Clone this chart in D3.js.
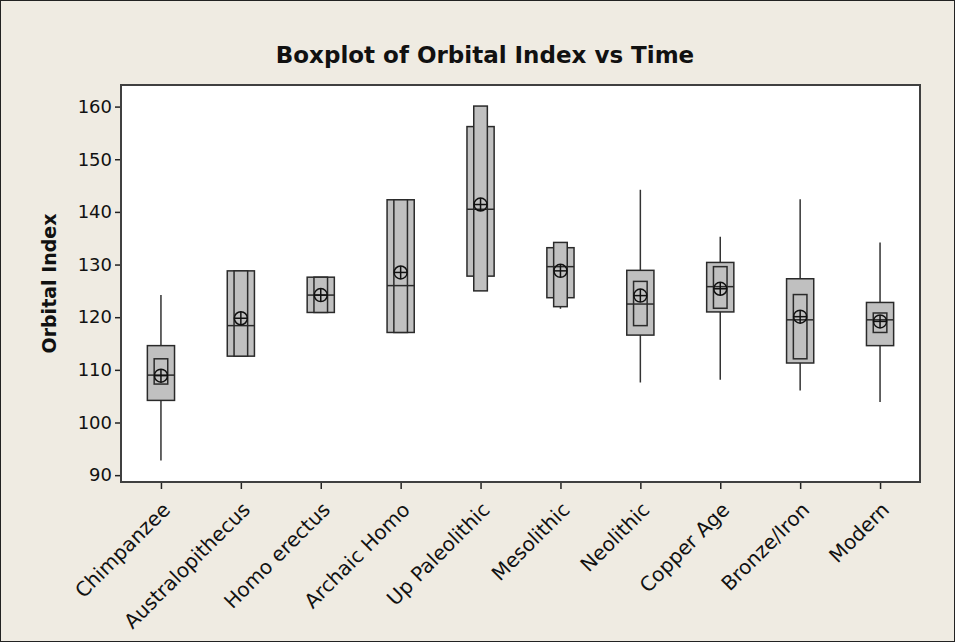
<!DOCTYPE html>
<html>
<head>
<meta charset="utf-8">
<script src="https://cdn.jsdelivr.net/npm/d3@7"></script>
<style>
  body { margin: 0; background: #fff; }
  text { font-family: "DejaVu Sans", Verdana, sans-serif; fill: #111; }
</style>
</head>
<body>
<div id="chart"></div>
<script>
// values
const categories = ["Chimpanzee", "Australopithecus", "Homo erectus", "Archaic Homo", "Up Paleolithic",
  "Mesolithic", "Neolithic", "Copper Age", "Bronze/Iron", "Modern"];
const whiskerLow  = [92.8, 112.6, 120.9, 117.1, 125.0, 121.6, 107.6, 108.1, 106.1, 103.9];
const q1          = [104.2, 112.6, 120.9, 117.1, 127.8, 123.7, 116.6, 121.0, 111.3, 114.6];
const median      = [109.0, 118.4, 124.2, 126.0, 140.5, 129.6, 122.5, 125.8, 119.5, 119.5];
const q3          = [114.6, 128.8, 127.6, 142.3, 156.2, 133.2, 128.9, 130.4, 127.3, 122.8];
const whiskerHigh = [124.2, 128.8, 127.6, 142.3, 160.1, 134.2, 144.2, 135.3, 142.4, 134.2];
const ciLow       = [107.3, 112.6, 120.9, 117.1, 125.0, 122.0, 118.4, 121.7, 112.1, 117.1];
const ciHigh      = [112.1, 128.8, 127.6, 142.3, 160.1, 134.2, 126.8, 129.6, 124.3, 120.8];
const means       = [108.9, 119.8, 124.2, 128.5, 141.4, 128.8, 124.1, 125.4, 120.1, 119.2];
const yTicks = [90, 100, 110, 120, 130, 140, 150, 160];

const width = 955, height = 642;
const plot = { left: 121, top: 85, right: 920, bottom: 482 };

const rows = categories.map((c, i) => ({
  cat: c, lo: whiskerLow[i], q1: q1[i], med: median[i], q3: q3[i], hi: whiskerHigh[i],
  ciLo: ciLow[i], ciHi: ciHigh[i], mean: means[i]
}));

const svg = d3.select("#chart").append("svg")
  .attr("width", width)
  .attr("height", height);

// page background + outer frame
svg.append("rect")
  .attr("x", 0.5).attr("y", 0.5)
  .attr("width", width - 1).attr("height", height - 1)
  .attr("fill", "#efebe2")
  .attr("stroke", "#222");

const x = d3.scalePoint()
  .domain(categories)
  .range([plot.left, plot.right])
  .padding(0.5);

const y = d3.scaleLinear()
  .domain([88.7, 164.1])
  .range([plot.bottom, plot.top]);

const boxW = x.step() * 0.34;
const ciW = x.step() * 0.17;

svg.append("rect")
  .attr("x", plot.left).attr("y", plot.top)
  .attr("width", plot.right - plot.left).attr("height", plot.bottom - plot.top)
  .attr("fill", "#fff");

const g = svg.append("g");
const box = g.selectAll(".box")
  .data(rows)
  .enter()
  .append("g")
  .attr("class", "box")
  .attr("transform", d => "translate(" + x(d.cat) + ",0)");

// whiskers
box.append("line")
  .attr("x1", 0).attr("x2", 0)
  .attr("y1", d => y(d.lo)).attr("y2", d => y(d.hi))
  .attr("stroke", "#333")
  .attr("stroke-width", 1.5);

// interquartile box
box.append("rect")
  .attr("x", -boxW / 2)
  .attr("y", d => y(d.q3))
  .attr("width", boxW)
  .attr("height", d => y(d.q1) - y(d.q3))
  .attr("fill", "#c0c0c0")
  .attr("stroke", "#2a2a2a")
  .attr("stroke-width", 1.5);

// median confidence interval box
box.append("rect")
  .attr("x", -ciW / 2)
  .attr("y", d => y(d.ciHi))
  .attr("width", ciW)
  .attr("height", d => y(d.ciLo) - y(d.ciHi))
  .attr("fill", "#c0c0c0")
  .attr("stroke", "#2a2a2a")
  .attr("stroke-width", 1.5);

// median
box.append("line")
  .attr("x1", -boxW / 2).attr("x2", boxW / 2)
  .attr("y1", d => y(d.med)).attr("y2", d => y(d.med))
  .attr("stroke", "#2a2a2a")
  .attr("stroke-width", 1.5);

// mean symbol (circled plus)
const r = 6.5;
const meanSym = box.append("g")
  .attr("transform", d => "translate(0," + y(d.mean) + ")")
  .attr("stroke", "#111")
  .attr("stroke-width", 1.5)
  .attr("fill", "none");
meanSym.append("circle").attr("r", r);
meanSym.append("line").attr("x1", -r).attr("x2", r);
meanSym.append("line").attr("y1", -r).attr("y2", r);

// plot frame
svg.append("rect")
  .attr("x", plot.left).attr("y", plot.top)
  .attr("width", plot.right - plot.left).attr("height", plot.bottom - plot.top)
  .attr("fill", "none")
  .attr("stroke", "#404040")
  .attr("stroke-width", 2);

// axes
const yAxis = svg.append("g")
  .attr("transform", "translate(" + (plot.left - 1) + ",0)")
  .call(d3.axisLeft(y).tickValues(yTicks).tickSize(5).tickPadding(3).tickSizeOuter(0));
yAxis.select(".domain").remove();
yAxis.selectAll("line").attr("stroke", "#222").attr("stroke-width", 1.5);
yAxis.selectAll("text").style("font-size", "18px").attr("fill", "#111");

const xAxis = svg.append("g")
  .attr("transform", "translate(0," + (plot.bottom + 1) + ")")
  .call(d3.axisBottom(x).tickSize(6).tickSizeOuter(0));
xAxis.select(".domain").remove();
xAxis.selectAll("line").attr("stroke", "#222").attr("stroke-width", 1.5);
xAxis.selectAll("text")
  .style("font-size", "20px")
  .attr("fill", "#111")
  .attr("text-anchor", "end")
  .attr("x", 0).attr("y", 0).attr("dy", 0)
  .attr("transform", "translate(10,28) rotate(-45)");

// title and axis label
svg.append("text")
  .attr("x", 485).attr("y", 63)
  .attr("text-anchor", "middle")
  .style("font-size", "23px")
  .style("font-weight", "bold")
  .text("Boxplot of Orbital Index vs Time");

svg.append("text")
  .attr("transform", "translate(56," + ((plot.top + plot.bottom) / 2) + ") rotate(-90)")
  .attr("text-anchor", "middle")
  .style("font-size", "19px")
  .style("font-weight", "bold")
  .text("Orbital Index");
</script>
</body>
</html>
